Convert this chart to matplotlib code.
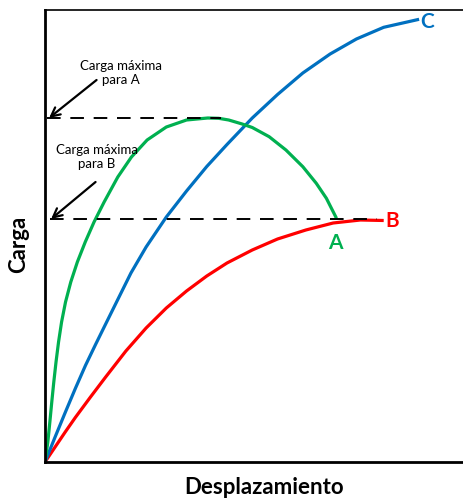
import matplotlib
matplotlib.use("Agg")
import matplotlib.pyplot as plt

plt.rcParams['font.family'] = ['Lato', 'DejaVu Sans']

# curva A (verde): sube rapido, llega al maximo y cae
despA = [0, 2.8, 4.8, 6.7, 8.7, 10.9, 13.4, 16.4, 20.3, 25.5, 32, 39.8, 48.5, 58.5,
         72, 85.5, 101, 120, 140, 161, 171.7, 181.7, 195, 205, 221.7, 238.3, 255,
         268.3, 278.3, 288.3]
cargaA = [0, 20, 40, 60, 80, 100, 120, 140, 160, 180, 200, 220, 240, 260,
          285, 305, 322, 335, 342, 344, 343.7, 342, 338, 334.5, 325.3, 312, 295.3,
          278.7, 263.7, 243.7]

# curva B (rojo)
despB = [0, 10, 20, 30, 45, 60, 80, 100, 120, 140, 160, 180, 205, 230, 258, 285, 312, 335]
cargaB = [0, 15, 30, 44.5, 65, 85, 111, 134, 154, 171, 186, 199, 212, 223, 232, 239,
          242, 241.5]

# curva C (azul)
despC = [0, 10, 20, 30, 40, 50, 60, 72, 85, 100, 120, 140, 160, 180, 205, 230, 255,
         282, 308, 335, 370]
cargaC = [0, 25, 49.5, 73.5, 96.5, 117.5, 138, 162.5, 189, 215, 245, 271, 295.5,
          317.5, 344, 367.5, 389, 408, 423, 434.7, 442.7]

verde = '#00B050'
rojo = '#FF0000'
azul = '#0070C0'

fig = plt.figure(figsize=(4.64, 5.0), dpi=100)
ax = fig.add_axes([45/464, 38/500, 1 - 45/464 + 0.01, 452/500])
ax.set_xlim(0, 419)
ax.set_ylim(0, 452)
ax.set_xticks([])
ax.set_yticks([])
for s in ['left', 'bottom']:
    ax.spines[s].set_linewidth(2.0)
ax.spines['top'].set_linewidth(1.2)
ax.spines['right'].set_visible(False)

estilo = dict(lw=2.3, solid_capstyle='butt', solid_joinstyle='round')
ax.plot(despB, cargaB, color=rojo, **estilo)
ax.plot(despC, cargaC, color=azul, **estilo)
ax.plot(despA, cargaA, color=verde, **estilo)

maxA = max(cargaA)
maxB = max(cargaB) + 1
ax.plot([2, 174], [maxA, maxA], color='black', lw=1.4, dashes=(7, 5))
ax.plot([5, 328], [maxB, maxB], color='black', lw=1.4, dashes=(7, 5))

flecha = dict(arrowstyle='->', lw=1.6, color='black', mutation_scale=16,
              shrinkA=0, shrinkB=0)
ax.annotate('', xy=(4, maxA), xytext=(51, 382), arrowprops=flecha)
ax.annotate('', xy=(6, maxB), xytext=(50, 280), arrowprops=flecha)
ax.text(75, 389, 'Carga máxima\npara A', ha='center', va='center', fontsize=9.5,
        linespacing=1.25)
ax.text(51, 305, 'Carga máxima\npara B', ha='center', va='center', fontsize=9.5,
        linespacing=1.25)

ax.text(378, 440, 'C', color=azul, fontsize=15, fontweight='bold', ha='center', va='center')
ax.text(343, 241, 'B', color=rojo, fontsize=15, fontweight='bold', ha='center', va='center')
ax.text(287, 219, 'A', color=verde, fontsize=15, fontweight='bold', ha='center', va='center')

fig.text(264/464, 1 - 487/500, 'Desplazamiento', fontsize=16, fontweight='bold',
         ha='center', va='center')
fig.text(19/464, 1 - 244/500, 'Carga', fontsize=16, fontweight='bold',
         ha='center', va='center', rotation=90)

fig.savefig('out.png', dpi=100)
